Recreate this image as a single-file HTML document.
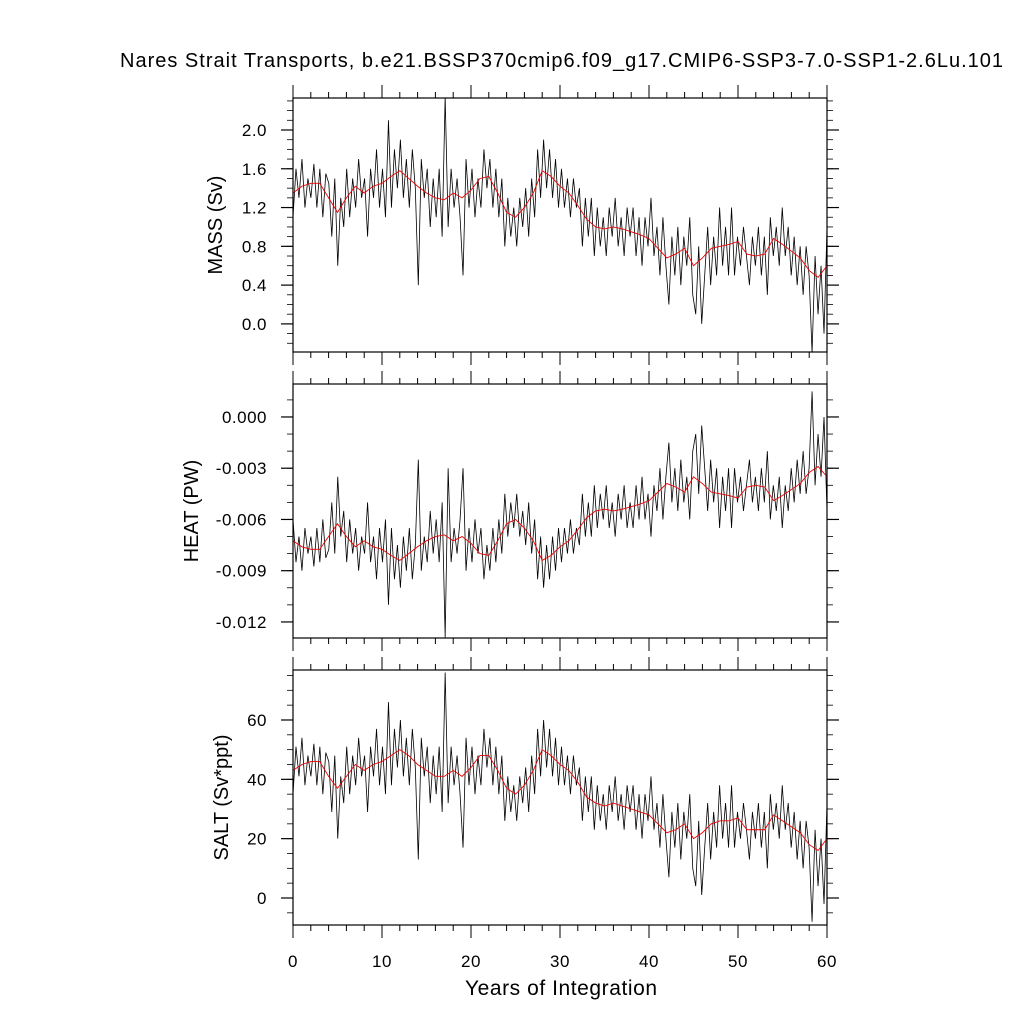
<!DOCTYPE html>
<html><head><meta charset="utf-8"><style>
html,body{margin:0;padding:0;background:#fff;}
svg{display:block;font-family:"Liberation Sans",Arial,sans-serif;}
</style></head><body>
<svg id="chart" width="1024" height="1024" viewBox="0 0 1024 1024">
<text x="561.5" y="67" font-size="20" text-anchor="middle" textLength="883" lengthAdjust="spacing">Nares Strait Transports, b.e21.BSSP370cmip6.f09_g17.CMIP6-SSP3-7.0-SSP1-2.6Lu.101</text>
<text x="561" y="995" font-size="21" text-anchor="middle" textLength="192" lengthAdjust="spacing">Years of Integration</text>
</svg>
<script>
const massRaw=[1.1,1.6,1.3,1.7,1.2,1.5,1.3,1.65,1.2,1.6,1.1,1.55,1.45,0.9,1.5,0.6,1.3,1.0,1.6,1.1,1.5,1.2,1.7,1.3,1.5,0.9,1.6,1.3,1.8,1.2,1.6,1.1,2.1,1.2,1.8,1.4,1.9,1.3,1.7,1.2,1.8,1.4,0.4,1.7,1.3,1.6,1.0,1.5,1.1,1.6,0.9,2.35,1.0,1.6,1.2,1.5,1.1,0.5,1.7,1.2,1.6,1.1,1.5,1.2,1.8,1.4,1.7,1.2,1.6,1.1,1.5,0.8,1.3,0.9,1.2,0.8,1.3,1.0,1.4,0.9,1.5,1.1,1.8,1.3,1.9,1.4,1.8,1.3,1.7,1.2,1.6,1.2,1.5,1.1,1.5,1.2,1.4,0.8,1.3,0.9,1.3,0.7,1.2,0.8,1.1,0.7,1.2,0.9,1.3,0.8,1.1,0.7,1.2,0.9,1.2,0.7,1.1,0.6,1.1,0.8,1.3,0.7,1.0,0.5,1.1,0.6,0.2,0.9,0.5,1.0,0.4,0.9,0.6,1.1,0.3,0.1,0.8,0.0,0.5,1.0,0.4,0.9,0.5,1.2,0.6,1.0,0.5,1.2,0.5,0.9,0.6,1.0,0.7,0.4,0.9,0.6,1.0,0.5,0.9,0.3,1.1,0.7,1.0,0.6,1.2,0.7,1.0,0.5,0.9,0.4,0.8,0.3,0.8,0.5,-0.3,0.7,0.1,0.6,-0.1,1.0];
const massSmooth=[1.35,1.42,1.45,1.45,1.3,1.15,1.3,1.42,1.35,1.42,1.45,1.52,1.58,1.5,1.42,1.35,1.3,1.28,1.35,1.3,1.38,1.5,1.52,1.35,1.15,1.1,1.2,1.35,1.58,1.52,1.42,1.35,1.22,1.08,1.0,0.98,1.0,0.98,0.95,0.92,0.88,0.78,0.68,0.72,0.78,0.6,0.68,0.78,0.8,0.82,0.85,0.72,0.7,0.72,0.88,0.82,0.75,0.68,0.55,0.48,0.6];
const heatRaw=[-6.0,-8.5,-7.0,-9.0,-6.5,-8.0,-7.0,-8.75,-6.5,-8.5,-6.0,-8.25,-7.75,-5.0,-8.0,-3.5,-7.0,-5.5,-8.5,-6.0,-8.0,-6.5,-9.0,-7.0,-8.0,-5.0,-8.5,-7.0,-9.5,-6.5,-8.5,-6.0,-11.0,-6.5,-9.5,-7.5,-10.0,-7.0,-9.0,-6.5,-9.5,-7.5,-2.5,-9.0,-7.0,-8.5,-5.5,-8.0,-6.0,-8.5,-5.0,-12.9,-3.0,-8.5,-6.5,-8.0,-6.0,-3.0,-9.0,-6.5,-8.5,-6.0,-8.0,-6.5,-9.5,-7.5,-9.0,-6.5,-8.5,-6.0,-8.0,-4.5,-7.0,-5.0,-6.5,-4.5,-7.0,-5.5,-7.5,-5.0,-8.0,-6.0,-9.5,-7.0,-10.0,-7.5,-9.5,-7.0,-9.0,-6.5,-8.5,-6.5,-8.0,-6.0,-8.0,-6.5,-7.5,-4.5,-7.0,-5.0,-7.0,-4.0,-6.5,-4.5,-6.0,-4.0,-6.5,-5.0,-7.0,-4.5,-6.0,-4.0,-6.5,-5.0,-6.5,-4.0,-6.0,-3.5,-6.0,-4.5,-7.0,-4.0,-5.5,-3.0,-6.0,-3.5,-1.5,-5.0,-3.0,-5.5,-2.5,-5.0,-3.5,-6.0,-2.0,-1.0,-4.5,-0.5,-3.0,-5.5,-2.5,-5.0,-3.0,-6.5,-3.5,-5.5,-3.0,-6.5,-3.0,-5.0,-3.5,-5.5,-4.0,-2.5,-5.0,-3.5,-5.5,-3.0,-5.0,-2.0,-6.0,-4.0,-5.5,-3.5,-6.5,-4.0,-5.5,-3.0,-5.0,-2.5,-4.5,-2.0,-4.5,-3.0,1.5,-4.0,-1.0,-3.5,0.0,-5.5];
const heatSmooth=[-7.25,-7.6,-7.75,-7.75,-7.0,-6.25,-7.0,-7.6,-7.25,-7.6,-7.75,-8.1,-8.4,-8.0,-7.6,-7.25,-7.0,-6.9,-7.25,-7.0,-7.4,-8.0,-8.1,-7.25,-6.25,-6.0,-6.5,-7.25,-8.4,-8.1,-7.6,-7.25,-6.6,-5.9,-5.5,-5.4,-5.5,-5.4,-5.25,-5.1,-4.9,-4.4,-3.9,-4.1,-4.4,-3.5,-3.9,-4.4,-4.5,-4.6,-4.75,-4.1,-4.0,-4.1,-4.9,-4.6,-4.25,-3.9,-3.25,-2.9,-3.5];
const saltRaw=[35,51,41,54,38,48,41,52,38,51,35,49,46,29,48,20,41,32,51,35,48,38,54,41,48,29,51,41,57,38,51,35,66,38,57,44,60,41,54,38,57,44,13,54,41,51,32,48,35,51,29,76,32,51,38,48,35,17,54,38,51,35,48,38,57,44,54,38,51,35,48,26,41,29,38,26,41,32,44,29,48,35,57,41,60,44,57,41,54,38,51,38,48,35,48,38,44,26,41,29,41,23,38,26,35,23,38,29,41,26,35,23,38,29,38,23,35,20,35,26,41,23,32,17,35,20,7,29,17,32,13,29,20,35,10,4,26,1,17,32,13,29,17,38,20,32,17,38,17,29,20,32,23,13,29,20,32,17,29,10,35,23,32,20,38,23,32,17,29,13,26,10,26,17,-8,23,4,20,-2,32];
const saltSmooth=[43,45,46,46,41,37,41,45,43,45,46,48,50,48,45,43,41,41,43,41,44,48,48,43,37,35,38,43,50,48,45,43,39,34,32,31,32,31,30,29,28,25,22,23,25,20,22,25,26,26,27,23,23,23,28,26,24,22,18,16,20];
const xTickLabels=["0","10","20","30","40","50","60"];
const massTicks=[0,0.4,0.8,1.2,1.6,2.0];
const massTickLabels=["0.0","0.4","0.8","1.2","1.6","2.0"];
const heatTicks=[0,-3,-6,-9,-12];
const heatTickLabels=["0.000","-0.003","-0.006","-0.009","-0.012"];
const saltTicks=[0,20,40,60];
const saltTickLabels=["0","20","40","60"];

const NS="http://www.w3.org/2000/svg";
const svg=document.getElementById('chart');
const X0=293,X1=827;
const xs=v=>X0+(v/60)*(X1-X0);
function mk(tag,attrs,parent){const e=document.createElementNS(NS,tag);for(const k in attrs)e.setAttribute(k,attrs[k]);(parent||svg).appendChild(e);return e;}

const panels=[
 {key:'mass',top:98,bot:352,vTop:2.33,vBot:-0.29,raw:massRaw,sm:massSmooth,ticks:massTicks,labels:massTickLabels,minor:0.1,title:'MASS (Sv)',tx:222},
 {key:'heat',top:384,bot:638,vTop:1.93,vBot:-12.94,raw:heatRaw,sm:heatSmooth,ticks:heatTicks,labels:heatTickLabels,minor:1,title:'HEAT (PW)',tx:198},
 {key:'salt',top:670,bot:925,vTop:76.85,vBot:-9.1,raw:saltRaw,sm:saltSmooth,ticks:saltTicks,labels:saltTickLabels,minor:5,title:'SALT (Sv*ppt)',tx:228}
];
panels.forEach((p,pi)=>{
 const ys=v=>p.bot-(v-p.vBot)/(p.vTop-p.vBot)*(p.bot-p.top);
 const g=mk('g',{});
 
 
 const defs=mk('clipPath',{id:'clip'+pi},g);
 mk('rect',{x:X0,y:p.top,width:X1-X0,height:p.bot-p.top},defs);
 const n=p.raw.length;
 let d='';p.raw.forEach((v,i)=>{d+=(i?'L':'M')+xs(i*60/(n-1)).toFixed(2)+','+ys(v).toFixed(2);});
 const line=mk('path',{d:d,fill:'none',stroke:'#000','stroke-width':0.8,'clip-path':'url(#clip'+pi+')'},g);
 
 
 let d2='';p.sm.forEach((v,i)=>{d2+=(i?'L':'M')+xs(i).toFixed(2)+','+ys(v).toFixed(2);});
 const sl=mk('path',{d:d2,fill:'none',stroke:'#e00','stroke-width':0.9},g);
 
 
 const fr=mk('rect',{x:X0,y:p.top,width:X1-X0,height:p.bot-p.top,fill:'none',stroke:'#000','stroke-width':1.2},g);
 
 
 for(let yr=0;yr<=60;yr+=2){
  const maj=yr%10===0,L=maj?13:6,x=xs(yr);
  mk('line',{x1:x,x2:x,y1:p.top,y2:p.top-L,stroke:'#000','stroke-width':1},g);
  mk('line',{x1:x,x2:x,y1:p.bot,y2:p.bot+L,stroke:'#000','stroke-width':1},g);
 }
 const lo=Math.ceil(p.vBot/p.minor),hi=Math.floor(p.vTop/p.minor);
 for(let k=lo;k<=hi;k++){const y=ys(k*p.minor);
  mk('line',{x1:X0,x2:X0-6,y1:y,y2:y,stroke:'#000','stroke-width':0.8},g);
  mk('line',{x1:X1,x2:X1+6,y1:y,y2:y,stroke:'#000','stroke-width':0.8},g);}
 p.ticks.forEach((v,i)=>{const y=ys(v);
  mk('line',{x1:X0,x2:X0-12,y1:y,y2:y,stroke:'#000','stroke-width':1.2},g);
  mk('line',{x1:X1,x2:X1+12,y1:y,y2:y,stroke:'#000','stroke-width':1.2},g);
  const t=mk('text',{x:X0-26,y:y+6,'font-size':17,'letter-spacing':0.5,'text-anchor':'end'},g);
  t.textContent=p.labels[i];
  
  
 });
 const cy=(p.top+p.bot)/2;
 const tt=mk('text',{x:p.tx,y:cy,'font-size':20,'text-anchor':'middle',transform:'rotate(-90 '+p.tx+' '+cy+')'},g);
 tt.textContent=p.title;
 
 
});
xTickLabels.forEach((s,i)=>{
 const t=mk('text',{x:xs(i*10),y:967,'font-size':17,'letter-spacing':0.5,'text-anchor':'middle'});
 t.textContent=s;
 
 
});
</script>
</body></html>
